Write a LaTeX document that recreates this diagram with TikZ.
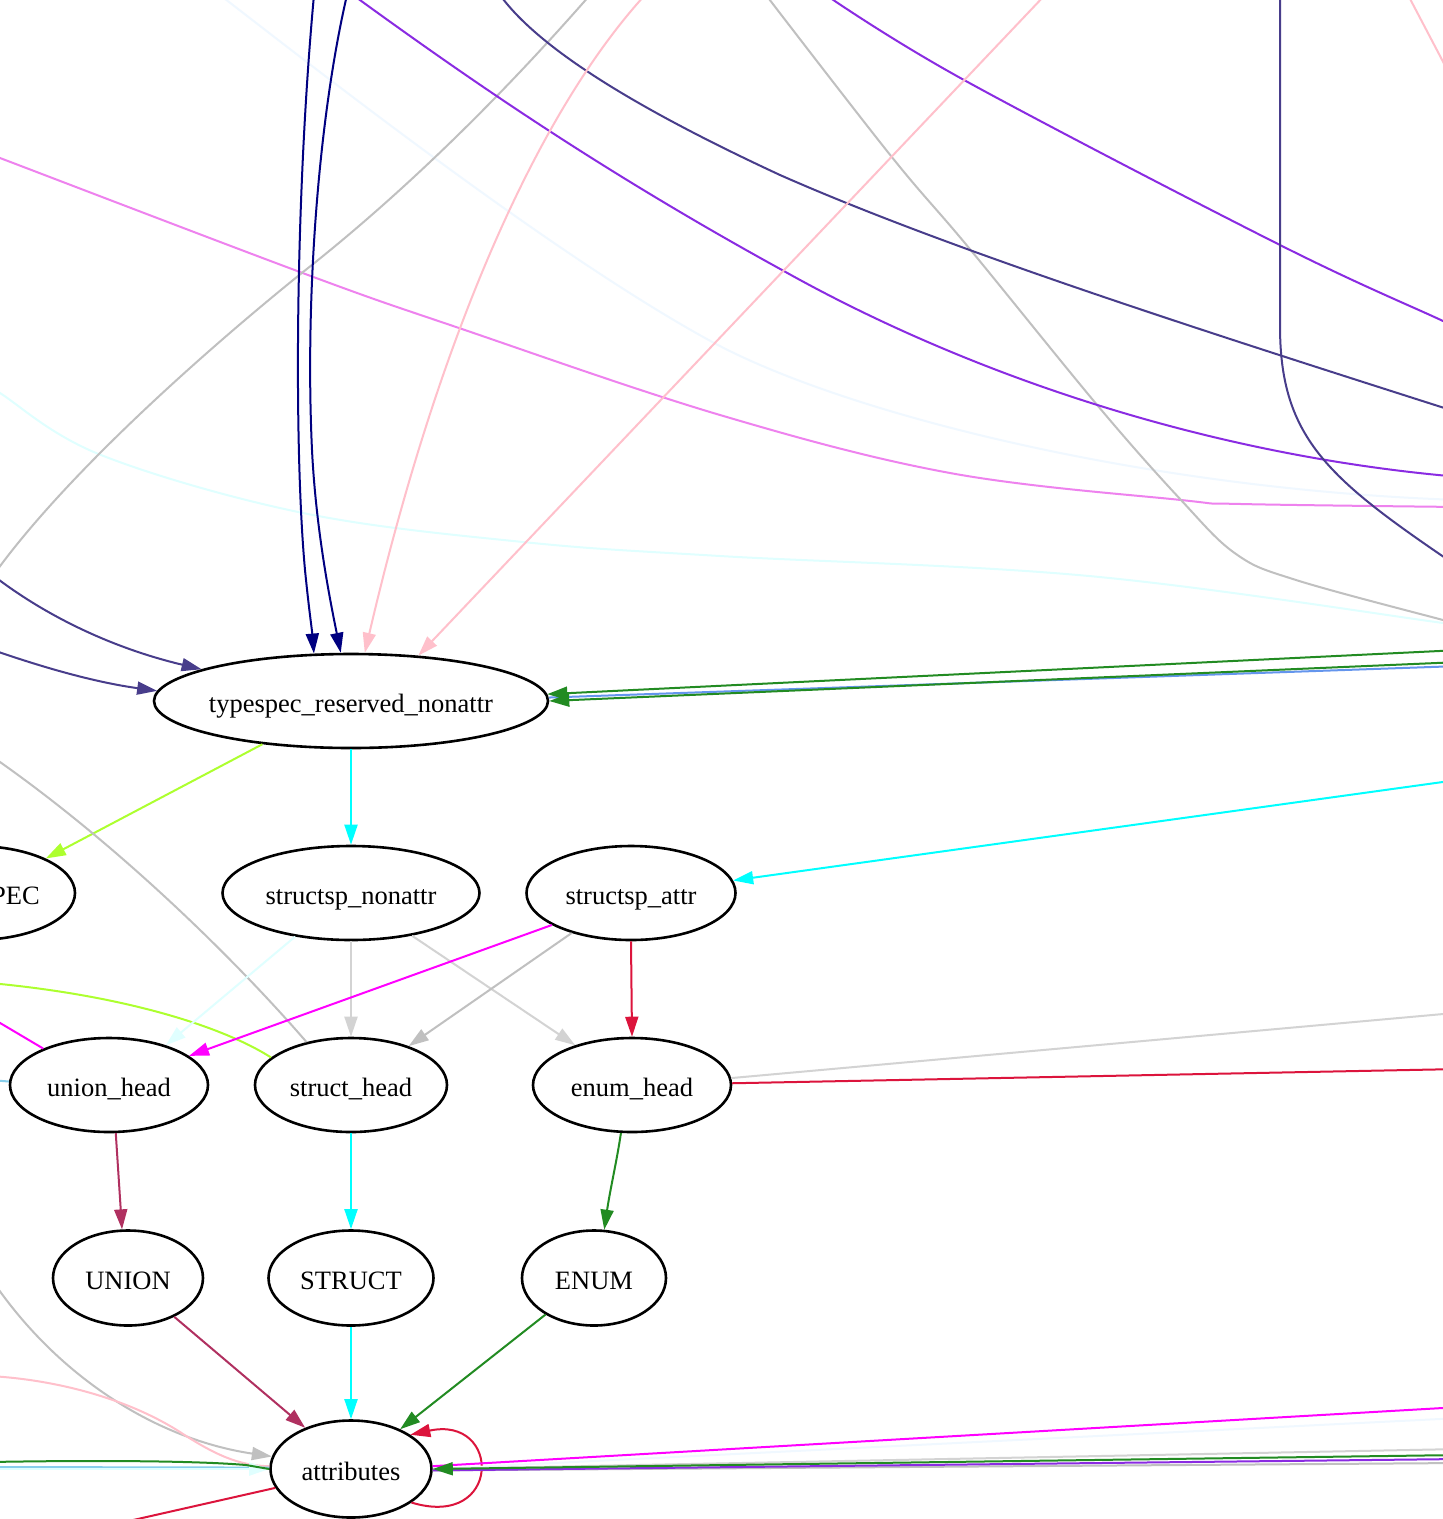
\documentclass[tikz,border=0pt]{standalone}
\usepackage{fontspec}
\setmainfont{Liberation Serif}
\usetikzlibrary{arrows.meta,shapes.geometric}
\definecolor{cNavy}{RGB}{0,0,128}
\definecolor{cPink}{RGB}{255,192,203}
\definecolor{cBV}{RGB}{138,43,226}
\definecolor{cDSB}{RGB}{72,61,139}
\definecolor{cSilver}{RGB}{192,192,192}
\definecolor{cAlice}{RGB}{240,248,255}
\definecolor{cViolet}{RGB}{238,130,238}
\definecolor{cLCyan}{RGB}{224,255,255}
\definecolor{cFGreen}{RGB}{34,139,34}
\definecolor{cCorn}{RGB}{100,149,237}
\definecolor{cGY}{RGB}{173,255,47}
\definecolor{cCyan}{RGB}{0,255,255}
\definecolor{cMag}{RGB}{255,0,255}
\definecolor{cSky}{RGB}{135,206,235}
\definecolor{cLGray}{RGB}{211,211,211}
\definecolor{cCrimson}{RGB}{220,20,60}
\definecolor{cMaroon}{RGB}{176,48,96}
\newcommand{\gtxt}[1]{\makebox[0pt]{\raisebox{-11.5pt}[0pt][0pt]{#1}}}
\tikzset{
  gnode/.style={ellipse, draw=black, line width=2.6pt, inner sep=0pt, minimum height=94pt, font=\fontsize{26.5}{30}\selectfont},
  ln/.style={line width=2pt},
  arr/.style={ln, -{Triangle[length=20pt,width=13pt]}},
}
\begin{document}
\begin{tikzpicture}[x=1pt,y=-1pt]
\useasboundingbox (0,0) rectangle (1443,1519);
\fill[white] (0,0) rectangle (1443,1519);
\clip (0,0) rectangle (1443,1519);

% nodes
\node[gnode, minimum width=394pt] (ts) at (351,701) {\gtxt{typespec\_reserved\_nonattr}};
\node[gnode, minimum width=200pt] (pec) at (-25,893) {\gtxt{\phantom{TYPES}PEC}};
\node[gnode, minimum width=257pt] (sn) at (351,893) {\gtxt{structsp\_nonattr}};
\node[gnode, minimum width=209pt] (sa) at (631,893) {\gtxt{structsp\_attr}};
\node[gnode, minimum width=198pt] (uh) at (109,1085) {\gtxt{union\_head}};
\node[gnode, minimum width=192pt] (sh) at (351,1085) {\gtxt{struct\_head}};
\node[gnode, minimum width=198pt] (eh) at (632,1085) {\gtxt{enum\_head}};
\node[gnode, minimum width=150pt, minimum height=95pt] (un) at (128,1278) {\gtxt{UNION}};
\node[gnode, minimum width=165pt, minimum height=95pt] (st) at (351,1278) {\gtxt{STRUCT}};
\node[gnode, minimum width=144pt, minimum height=95pt] (en) at (594,1278) {\gtxt{ENUM}};
\node[gnode, minimum width=161pt, minimum height=97pt] (attr) at (351,1469) {\gtxt{attributes}};

% free ends
\coordinate (nav1) at (314,-5);
\coordinate (nav2) at (347,-5);
\coordinate (pk3) at (645,-5);
\coordinate (pk4) at (1045,-5);
\coordinate (dsb14) at (-10,573);
\coordinate (dsb15) at (-10,649);
\coordinate (gr1) at (1460,650);
\coordinate (gr2) at (1460,662);
\coordinate (bl1) at (1460,666);
\coordinate (cy20) at (1460,779.6);
\coordinate (sv21) at (-10,755);
\coordinate (gy22) at (-10,983);
\coordinate (mg23) at (-10,1017);
\coordinate (sk24) at (-10,1080);
\coordinate (lg31) at (1460,1012.5);
\coordinate (cr32) at (1460,1069);
\coordinate (sv40) at (-8,1280);
\coordinate (pk41) at (-10,1376);
\coordinate (gr42) at (-10,1462);
\coordinate (lc43) at (-10,1469);
\coordinate (sk44) at (-10,1467);
\coordinate (cr45) at (120,1523);
\coordinate (mgR) at (1460,1407);
\coordinate (alR) at (1460,1418);
\coordinate (lgR) at (1460,1449);
\coordinate (grR) at (1460,1455);
\coordinate (bvR) at (1460,1459);
\coordinate (svR) at (1460,1463);

% pass-through curves at the top
\draw[ln, cAlice] (220,-5) .. controls (330,80) and (560,260) .. (716,344) .. controls (850,415) and (1150,490) .. (1460,500);
\draw[ln, cLCyan] plot[smooth, tension=0.6] coordinates {(-10,386) (0,393) (101,455) (303,513) (523,542) (720,556) (1089,576) (1443,623) (1460,626)};
\draw[ln, cViolet] plot[smooth, tension=0.6] coordinates {(-10,154) (0,158) (308,275) (459,328) (720,415) (950,473) (1181,500) (1241,504) (1460,507)};
\draw[ln, cSilver] (590,-5) .. controls (520,75) and (420,180) .. (303,272) .. controls (200,355) and (60,480) .. (-10,580);
\draw[ln, cSilver] plot[smooth, tension=0.6] coordinates {(766,-5) (891,156) (969,248) (1098,406) (1181,500) (1236,554) (1296,580) (1443,620) (1460,624)};
\draw[ln, cBV] (353,-5) .. controls (470,80) and (600,170) .. (782,270) .. controls (960,370) and (1200,455) .. (1460,477);
\draw[ln, cBV] plot[smooth, tension=0.6] coordinates {(826,-5) (964,80) (1280,245) (1443,321) (1460,330)};
\draw[ln, cDSB] (500,-5) .. controls (540,50) and (640,110) .. (780,175) .. controls (950,250) and (1200,330) .. (1460,413);
\draw[ln, cDSB] (1280,-5) -- (1280,326) .. controls (1280,440) and (1330,480) .. (1460,568);
\draw[ln, cPink] (1408,-5) -- (1450,75);

% edges into typespec_reserved_nonattr
\draw[arr, cNavy] (nav1) .. controls (295,200) and (294,450) .. (305,570) .. controls (309,610) and (312,630) .. (ts.128.4);
\draw[arr, cNavy] (nav2) .. controls (318,120) and (305,300) .. (312,450) .. controls (316,530) and (330,600) .. (ts.102.9);
\draw[arr, cPink] (pk3) .. controls (540,110) and (440,330) .. (ts.74.4);
\draw[arr, cPink] (pk4) -- (ts.34.7);
\draw[arr, cDSB] (dsb14) .. controls (50,620) and (120,650) .. (ts.168.4);
\draw[arr, cDSB] (dsb15) .. controls (50,670) and (100,683) .. (ts.177.1);
\draw[ln, cCorn] (bl1) -- (ts.1.2);
\draw[arr, cFGreen] (gr1) -- (ts.2.6);
\draw[arr, cFGreen] (gr2) -- (ts.0.6);

% edges out of typespec_reserved_nonattr
\draw[arr, cGY] (ts.206.8) -- (pec.26.9);
\draw[arr, cCyan] (ts.270) -- (sn.90);
\draw[arr, cCyan] (cy20) -- (sa.7.1);

% tails to the left
\draw[ln, cSilver] (sh.136.9) .. controls (240,965) and (120,845) .. (sv21);
\draw[ln, cGY] (sh.161.8) .. controls (220,1025) and (120,995) .. (gy22);
\draw[ln, cMag] (uh.151.4) -- (mg23);
\draw[ln, cSky] (uh.178) -- (sk24);

% structsp edges
\draw[arr, cLCyan] (sn.218) -- (uh.35.9);
\draw[arr, cLGray] (sn.270) -- (sh.90);
\draw[arr, cLGray] (sn.325.9) -- (eh.145);
\draw[arr, cMag] (sa.202.2) -- (uh.20.8);
\draw[arr, cSilver] (sa.214.8) -- (sh.34.5);
\draw[arr, cCrimson] (sa.270) -- (eh.90);
\draw[ln, cLGray] (eh.4.6) -- (lg31);
\draw[ln, cCrimson] (eh.1.7) -- (cr32);

% heads to keywords
\draw[arr, cMaroon] (uh.-82.9) -- (un.97.1);
\draw[arr, cCyan] (sh.270) -- (st.90);
\draw[arr, cFGreen] (eh.257.1) .. controls (617,1160) and (610,1190) .. (en.78.2);

% keywords to attributes
\draw[arr, cMaroon] (un.-40.3) -- (attr.138.3);
\draw[arr, cCyan] (st.270) -- (attr.90);
\draw[arr, cFGreen] (en.217.6) -- (attr.39.2);
\draw[arr, cCrimson] (attr.-29.4) .. controls (502,1530) and (502,1415) .. (attr.30.1);

% left side of attributes
\draw[arr, cSilver] (sv40) .. controls (60,1380) and (160,1440) .. (attr.171.5);
\draw[ln, cPink] (pk41) .. controls (60,1380) and (130,1400) .. (180,1432) .. controls (215,1455) and (240,1466) .. (attr.178);
\draw[ln, cSky] (sk44) -- (attr.179);
\draw[arr, cLCyan] (lc43) -- (attr.180);
\draw[ln, cFGreen] (gr42) .. controls (100,1460) and (200,1461) .. (246,1465) -- (attr.180);
\draw[ln, cCrimson] (attr.194) -- (cr45);

% right side of attributes
\draw[ln, cAlice] (alR) -- (attr.0.7);
\draw[ln, cLGray] (lgR) -- (attr.0);
\draw[ln, cSilver] (svR) -- (attr.-1);
\draw[ln, cBV] (bvR) -- (attr.-1.4);
\draw[ln, cMag] (mgR) -- (attr.2.1);
\draw[arr, cFGreen] (grR) -- (attr.0);
\end{tikzpicture}
\end{document}
